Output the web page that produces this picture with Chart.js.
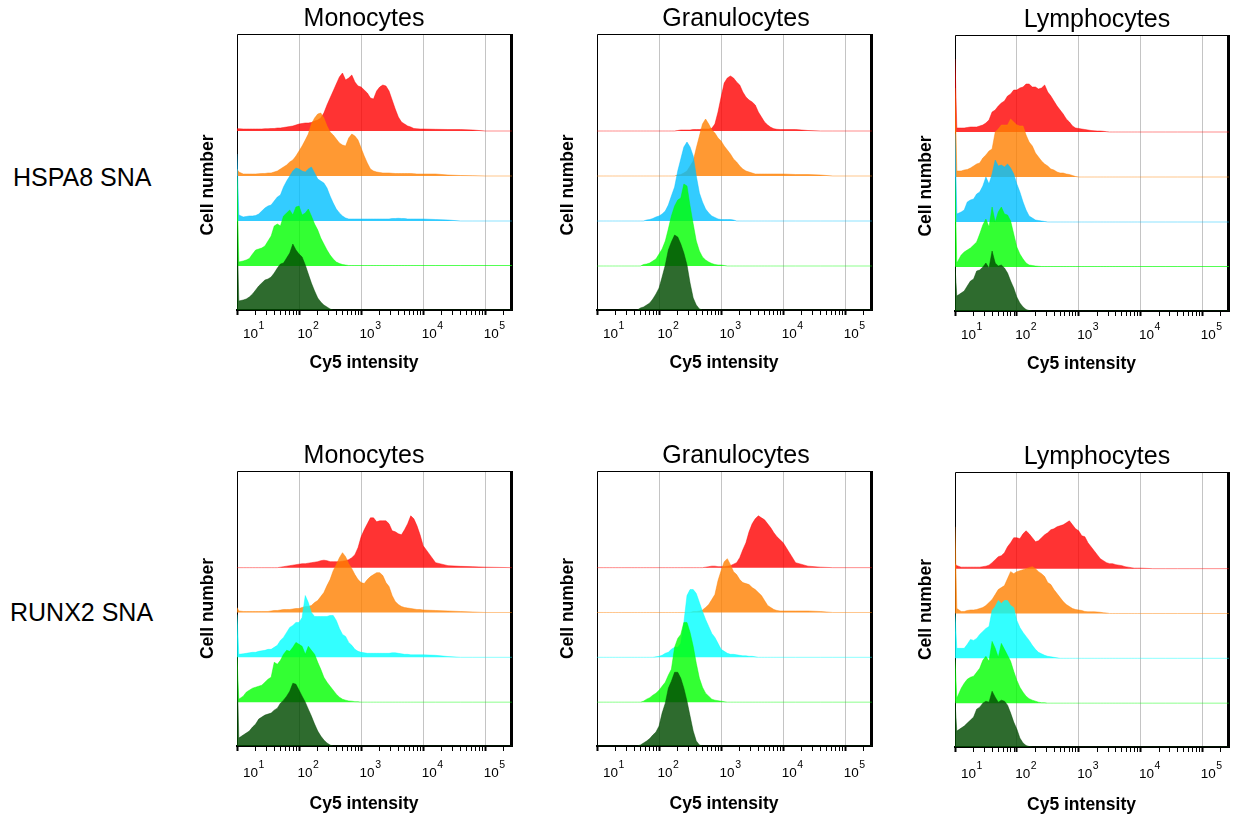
<!DOCTYPE html>
<html>
<head>
<meta charset="utf-8">
<title>Cy5 intensity histograms</title>
<script src="https://cdn.jsdelivr.net/npm/chart.js@4.4.1/dist/chart.umd.min.js"></script>
<style>
  html, body { margin: 0; padding: 0; background: #fff; overflow: hidden; }
  body { width: 1233px; height: 814px; position: relative; font-family: "Liberation Sans", Arial, sans-serif; }
  .panel { position: absolute; }
  .row-label { position: absolute; font-size: 25px; line-height: 25px; color: #000; white-space: nowrap; }
</style>
</head>
<body>
<div class="row-label" style="left:13px;top:165px">HSPA8 SNA</div>
<div class="row-label" style="left:10px;top:600px">RUNX2 SNA</div>
<script>
// Bin positions on the Cy5 axis (intensity)
const cy5Bins = [10, 10.7,
  12.6, 14.1, 15.8, 17.8, 20, 22.4, 25.1, 28.2,
  31.6, 35.5, 39.8, 44.7, 50.1, 56.2, 63.1, 70.8, 79.4, 89.1,
  100, 112, 126, 141, 158, 178, 200, 224, 251, 282,
  316, 355, 398, 447, 501, 562, 631, 708, 794, 891,
  1000, 1122, 1259, 1413, 1585, 1778, 1995, 2239, 2512, 2818,
  3162, 3548, 3981, 4467, 5012, 5623, 6310, 7079, 7943, 8913, 10000,
  15849, 25119, 39811, 63096, 100000, 270000];

// Histogram heights above each trace's own baseline (cell counts, arbitrary units)
// HSPA8 SNA - Monocytes
const hspaMonoRed = [2.3, 2.3,
  2, 2, 2, 2, 2, 2, 2, 2.3,
  2.3, 2.5, 2.5, 3, 3, 3.5, 4, 4.5, 5, 6,
  7, 7.5, 8, 8, 8.5, 10, 11, 13, 18, 26,
  33, 40, 47, 54, 58, 51, 53, 56, 49, 45,
  44, 41, 38, 33, 32, 40, 44, 46, 45, 40,
  31, 22, 14, 9, 7, 5, 4, 2.5, 2.2, 2, 2,
  1.7, 1.5, 1.5, 1, 0, 0];
const hspaMonoOrange = [7, 4,
  2, 2, 2, 2, 2, 2.3, 2.5, 2.5,
  3, 3, 4, 5, 7, 9, 11, 14, 16, 20,
  25, 30, 36, 42, 52, 58, 62, 63, 58, 50,
  44, 41, 37, 33, 31, 30, 38, 42, 40, 36,
  28, 20, 13, 7, 5, 4, 3.5, 3, 3, 3,
  2.7, 2.5, 2.5, 2.5, 2.5, 2.5, 2.5, 2.3, 2, 2, 2,
  2, 1, 0.5, 0.3, 0, 0];
const hspaMonoBlue = [67, 6,
  4, 4.5, 5, 5, 5.5, 7, 10, 13,
  15, 16, 20, 24, 26, 34, 40, 45, 50, 53,
  52, 50, 49, 52, 54, 48, 42, 40, 38, 33,
  25, 18, 12, 8, 5, 3, 2, 2, 2, 2,
  2, 2, 2, 2, 2, 2, 2, 2, 2, 2,
  2.5, 2.5, 2.7, 2.5, 2.5, 2, 2, 2, 2, 2, 2,
  1.5, 1, 0, 0, 0, 0];
const hspaMonoGreen = [89, 4,
  5, 6, 7.5, 12, 16, 17, 18, 20,
  25, 30, 40, 42, 40, 50, 53, 56, 51, 59,
  60, 51, 53, 57, 50, 42, 36, 28, 22, 16,
  11, 7, 4, 2.5, 1.5, 1, 0.5, 0.5, 0.5, 0.5,
  0.5, 0.5, 0.5, 0.5, 0.5, 0.5, 0.5, 0.5, 0.5, 0.5,
  0.5, 0.5, 0.5, 0.5, 0.5, 0.5, 0.5, 0.5, 0.5, 0.5, 0.5,
  0.5, 0.5, 0.5, 0.5, 0.5, 0.5];
const hspaMonoDark = [88, 9,
  10, 11, 13, 16, 20, 24, 27, 30,
  31, 33, 37, 42, 46, 47, 52, 57, 66, 60,
  56, 53, 45, 36, 27, 19, 12, 8, 5, 3,
  1, 0, 0, 0, 0, 0, 0, 0, 0, 0,
  0, 0, 0, 0, 0, 0, 0, 0, 0, 0,
  0, 0, 0, 0, 0, 0, 0, 0, 0, 0, 0,
  0, 0, 0, 0, 0, 0];

// HSPA8 SNA - Granulocytes
const hspaGranRed = [0, 0,
  0, 0, 0, 0, 0, 0, 0, 0,
  0, 0, 0, 0, 0, 0, 0, 0, 0, 0,
  0, 0, 0, 0, 0, 0, 0.5, 1, 1, 1,
  1, 1.5, 1.5, 1.5, 2, 2, 2, 2.7, 7, 19,
  34, 48, 53, 55, 53, 49, 46, 39, 34, 31,
  29, 26, 19, 14, 9, 6, 3.7, 2.3, 1.7, 1.5, 1.5,
  1.5, 0.5, 0, 0, 0, 0];
const hspaGranOrange = [0, 0,
  0, 0, 0, 0, 0, 0, 0, 0,
  0, 0, 0, 0, 0, 0, 0, 0, 0, 0,
  0, 0, 0, 0, 0, 0, 1, 1.5, 3, 5,
  10, 15, 28, 40, 52, 57, 52, 46, 43, 38,
  35, 30, 26, 22, 17, 14, 10, 7, 5, 4,
  3, 2, 2, 2, 2, 2, 2, 2, 2, 2, 2,
  1.5, 1.5, 1, 0, 0, 0];
const hspaGranBlue = [0, 0,
  0, 0, 0, 0, 0, 0, 0, 0,
  0, 0, 0, 0, 0, 0, 1, 1.5, 2.5, 4,
  5, 7, 10, 16, 25, 34, 50, 62, 74, 79,
  74, 65, 45, 28, 19, 12, 8, 5, 3.5, 2,
  1.5, 1.5, 1.5, 1.5, 1, 0, 0, 0, 0, 0,
  0, 0, 0, 0, 0, 0, 0, 0, 0, 0, 0,
  0, 0, 0, 0, 0, 0];
const hspaGranGreen = [0, 0,
  0, 0, 0, 0, 0, 0, 0, 0,
  0, 0, 0, 0, 0, 1.5, 2, 3, 5, 7,
  12, 17, 25, 37, 50, 60, 66, 68, 82, 80,
  60, 42, 25, 15, 9, 6, 4, 2.5, 1.5, 1,
  1, 0.5, 0, 0, 0, 0, 0, 0, 0, 0,
  0, 0, 0, 0, 0, 0, 0, 0, 0, 0, 0,
  0, 0, 0, 0, 0, 0];
const hspaGranDark = [0, 0,
  0, 0, 0, 0, 0, 0, 0, 0,
  0, 0, 0, 0, 2, 3, 5, 7, 11, 16,
  22, 33, 45, 60, 68, 75, 73, 66, 57, 45,
  27, 12, 5, 1, 0, 0, 0, 0, 0, 0,
  0, 0, 0, 0, 0, 0, 0, 0, 0, 0,
  0, 0, 0, 0, 0, 0, 0, 0, 0, 0, 0,
  0, 0, 0, 0, 0, 0];

// HSPA8 SNA - Lymphocytes
const hspaLymRed = [73, 4,
  4, 4, 4.5, 5, 5, 5, 6, 7,
  9, 12, 20, 22, 26, 29, 31, 36, 38, 42,
  42, 44, 45, 48, 48, 45, 45, 43, 44, 47,
  40, 36, 31, 26, 22, 18, 13, 10, 6, 4,
  3.5, 3, 2.5, 2, 1.5, 1.2, 1, 1, 0.7, 0.3,
  0, 0, 0, 0, 0, 0, 0, 0, 0, 0, 0,
  0, 0, 0, 0, 0, 0];
const hspaLymOrange = [89, 6,
  6, 7, 7.5, 9, 11, 13, 14, 19,
  22, 26, 28, 45, 48, 52, 52, 52, 58, 55,
  52, 51, 51, 42, 35, 31, 24, 20, 16, 13,
  11, 8, 7, 5, 4, 4, 3, 2.5, 1.5, 0.5,
  0, 0, 0, 0, 0, 0, 0, 0, 0, 0,
  0, 0, 0, 0, 0, 0, 0, 0, 0, 0, 0,
  0, 0, 0, 0, 0, 0];
const hspaLymBlue = [88, 8,
  10, 12, 20, 22, 23, 28, 30, 36,
  45, 38, 48, 62, 56, 57, 55, 58, 54, 48,
  38, 30, 20, 12, 6, 4, 2, 1.5, 1, 0.5,
  0, 0, 0, 0, 0, 0, 0, 0, 0, 0,
  0, 0, 0, 0, 0, 0, 0, 0, 0, 0,
  0, 0, 0, 0, 0, 0, 0, 0, 0, 0, 0,
  0, 0, 0, 0, 0, 0];
const hspaLymGreen = [88, 4,
  12, 15, 17, 19, 22, 25, 33, 42,
  48, 40, 60, 45, 55, 60, 53, 52, 46, 33,
  20, 13, 8, 4, 2, 1.5, 1, 0.7, 0.5, 0.5,
  0.5, 0.5, 0.5, 0.5, 0.5, 0.5, 0.5, 0.5, 0.5, 0.5,
  0.5, 0.5, 0.5, 0.5, 0.5, 0.5, 0.5, 0.5, 0.5, 0.5,
  0.5, 0.5, 0.5, 0.5, 0.5, 0.5, 0.5, 0.5, 0.5, 0.5, 0.5,
  0.5, 0.5, 0.5, 0.5, 0.5, 0.5];
const hspaLymDark = [45, 15,
  18, 20, 25, 30, 32, 40, 41, 44,
  48, 43, 60, 48, 45, 46, 43, 38, 30, 23,
  14, 8, 4, 1.5, 0.5, 0, 0, 0, 0, 0,
  0, 0, 0, 0, 0, 0, 0, 0, 0, 0,
  0, 0, 0, 0, 0, 0, 0, 0, 0, 0,
  0, 0, 0, 0, 0, 0, 0, 0, 0, 0, 0,
  0, 0, 0, 0, 0, 0];

// RUNX2 SNA - Monocytes
const runxMonoRed = [0, 0,
  0, 0, 0, 0, 0, 0, 0, 0,
  0, 0, 0, 0, 0.5, 1, 1.5, 2, 2.5, 3,
  3.5, 4, 4, 4.5, 5, 5.5, 6, 7, 7.5, 7,
  6, 6, 6, 6, 6.5, 7, 8, 10, 13, 20,
  31, 38, 44, 50, 50, 46, 47, 47, 47, 44,
  37, 36, 34, 33, 38, 44, 52, 49, 42, 33, 22,
  5, 2, 1.3, 1, 0.5, 0];
const runxMonoOrange = [5, 1.5,
  1, 1, 1, 1, 1, 1, 1, 1,
  1, 1.5, 2, 2, 2.5, 3, 3, 3, 3.5, 4,
  4, 5, 6, 6, 7, 10, 12, 16, 20, 27,
  33, 42, 48, 55, 60, 56, 49, 44, 38, 33,
  30, 29, 33, 36, 38, 40, 40, 37, 30, 26,
  17, 11, 8, 6, 5, 4.5, 4, 3.5, 3, 3, 2.5,
  2, 1.5, 1, 0.5, 0, 0];
const runxMonoCyan = [43, 3,
  3.5, 4, 4.5, 5, 5, 6, 6.5, 7,
  8, 8, 10, 12, 17, 20, 25, 30, 32, 35,
  35, 40, 62, 55, 45, 41, 41, 41, 41, 41,
  42, 42, 37, 29, 23, 21, 15, 12, 8, 6,
  5, 4.5, 4, 4, 4, 4, 4, 4, 4, 4,
  4.5, 4.5, 4, 3.5, 3, 3, 2.5, 2.5, 2.5, 2.5, 2.5,
  2, 0.8, 0, 0, 0, 0];
const runxMonoGreen = [46, 3,
  6, 10, 12, 14, 15, 16, 17, 20,
  23, 25, 40, 38, 42, 48, 52, 51, 55, 60,
  58, 56, 48, 56, 52, 48, 40, 33, 25, 20,
  16, 12, 8, 5, 3, 2, 1.2, 1, 0.5, 0.5,
  0, 0, 0, 0, 0, 0, 0, 0, 0, 0,
  0, 0, 0, 0, 0, 0, 0, 0, 0, 0, 0,
  0, 0, 0, 0, 0, 0];
const runxMonoDark = [86, 8,
  11, 13, 15, 19, 22, 27, 29, 31,
  32, 33, 36, 38, 43, 46, 50, 55, 63, 62,
  56, 50, 44, 37, 30, 22, 15, 10, 6, 3,
  1, 0, 0, 0, 0, 0, 0, 0, 0, 0,
  0, 0, 0, 0, 0, 0, 0, 0, 0, 0,
  0, 0, 0, 0, 0, 0, 0, 0, 0, 0, 0,
  0, 0, 0, 0, 0, 0];

// RUNX2 SNA - Granulocytes
const runxGranRed = [0, 0,
  0, 0, 0, 0, 0, 0, 0, 0,
  0, 0, 0, 0, 0, 0, 0, 0, 0, 0,
  0, 0, 0, 0, 0, 0, 0, 0, 0, 0,
  0, 0, 0, 0, 0, 0.5, 1, 1.5, 1.5, 1,
  1, 1, 1.5, 2, 3.5, 5, 10, 18, 25, 36,
  44, 49, 52, 50, 48, 44, 40, 35, 31, 28, 25,
  5, 1.5, 0.5, 0, 0, 0];
const runxGranOrange = [0, 0,
  0, 0, 0, 0, 0, 0, 0, 0,
  0, 0, 0, 0, 0, 0, 0, 0, 0, 0,
  0, 0, 0, 0, 0, 0, 0, 0, 0, 0,
  0, 1, 1, 1.5, 2.5, 5, 8, 13, 18, 32,
  42, 51, 54, 48, 41, 38, 33, 30, 29, 28,
  25, 23, 20, 17, 12, 7, 5, 3, 2, 1.5, 1.5,
  1.5, 1.5, 1, 0, 0, 0];
const runxGranCyan = [0, 0,
  0, 0, 0, 0, 0, 0, 0, 0,
  0, 0, 0, 0, 0, 0, 0, 0, 0, 0.5,
  1, 2, 4, 5, 8, 10, 10, 14, 35, 62,
  68, 68, 64, 55, 46, 38, 31, 24, 20, 14,
  8, 6, 4, 3, 3, 2.5, 2, 1.5, 1.5, 1,
  1, 0.5, 0, 0, 0, 0, 0, 0, 0, 0, 0,
  0, 0, 0, 0, 0, 0];
const runxGranGreen = [0, 0,
  0, 0, 0, 0, 0, 0, 0, 0,
  0, 0, 0, 0, 0, 1, 3, 4.5, 7, 9,
  12, 16, 20, 27, 33, 55, 64, 68, 80, 80,
  70, 56, 39, 24, 15, 9, 6, 3, 2, 1.5,
  1, 0.5, 0, 0, 0, 0, 0, 0, 0, 0,
  0, 0, 0, 0, 0, 0, 0, 0, 0, 0, 0,
  0, 0, 0, 0, 0, 0];
const runxGranDark = [0, 0,
  0, 0, 0, 0, 0, 0, 0, 0,
  0, 0, 0, 0, 1, 3, 5, 7.5, 11, 14,
  20, 33, 43, 58, 65, 74, 74, 68, 58, 45,
  30, 15, 5, 1, 0, 0, 0, 0, 0, 0,
  0, 0, 0, 0, 0, 0, 0, 0, 0, 0,
  0, 0, 0, 0, 0, 0, 0, 0, 0, 0, 0,
  0, 0, 0, 0, 0, 0];

// RUNX2 SNA - Lymphocytes
const runxLymRed = [5, 3,
  1.5, 1.5, 1.5, 1.5, 1.5, 1.5, 1.5, 2,
  2.5, 3.5, 6, 9, 12, 13, 16, 22, 26, 31,
  31, 30, 35, 38, 35, 31, 27, 28, 31, 34,
  36, 39, 40, 42, 43, 44, 46, 48, 44, 40,
  38, 33, 32, 26, 22, 18, 14, 10, 8, 6,
  5, 5, 4, 3.5, 3, 2, 1.5, 1, 0.5, 0.5, 0.5,
  0, 0, 0, 0, 0, 0];
const runxLymOrange = [87, 5,
  2, 2, 3, 3.5, 3.5, 4, 5, 6,
  8, 11, 14, 19, 24, 26, 28, 35, 42, 40,
  42, 43, 44, 45, 46, 47, 45, 42, 40, 37,
  31, 29, 24, 20, 16, 12, 9, 7, 5, 4,
  3.5, 3, 2, 1.7, 1.7, 1.7, 1.5, 1.2, 0.7, 0.5,
  0, 0, 0, 0, 0, 0, 0, 0, 0, 0, 0,
  0, 0, 0, 0, 0, 0];
const runxLymCyan = [45, 10,
  10, 10, 14, 19, 18, 20, 24, 27,
  30, 32, 48, 52, 58, 55, 58, 58, 53, 51,
  38, 31, 26, 22, 18, 13, 9, 6, 4.5, 3,
  2, 1.5, 1, 0.5, 0, 0, 0, 0, 0, 0,
  0, 0, 0, 0, 0, 0, 0, 0, 0, 0,
  0, 0, 0, 0, 0, 0, 0, 0, 0, 0, 0,
  0, 0, 0, 0, 0, 0];
const runxLymGreen = [44, 5,
  15, 20, 24, 26, 27, 31, 35, 43,
  47, 42, 62, 55, 46, 60, 54, 48, 42, 32,
  23, 16, 11, 7, 4.5, 3, 2, 1, 0.5, 0.5,
  0, 0, 0, 0, 0, 0, 0, 0, 0, 0,
  0, 0, 0, 0, 0, 0, 0, 0, 0, 0,
  0, 0, 0, 0, 0, 0, 0, 0, 0, 0, 0,
  0, 0, 0, 0, 0, 0];
const runxLymDark = [46, 16,
  19, 21, 24, 27, 30, 38, 40, 44,
  46, 45, 56, 50, 45, 47, 46, 42, 34, 25,
  18, 9, 4, 1.5, 0.5, 0, 0, 0, 0, 0,
  0, 0, 0, 0, 0, 0, 0, 0, 0, 0,
  0, 0, 0, 0, 0, 0, 0, 0, 0, 0,
  0, 0, 0, 0, 0, 0, 0, 0, 0, 0, 0,
  0, 0, 0, 0, 0, 0];

const populations = ['Monocytes', 'Granulocytes', 'Lymphocytes'];
const xTickExponents = [1, 2, 3, 4, 5];
const traceLabels = ['dark green', 'green', 'blue', 'orange', 'red'];

// ---- layout / style ----
const X_MIN = 10, X_MAX = 270000;
const Y_SPAN = 276;
const baselines = [0, 44, 89, 134, 179];     // front trace first
const PAD_L = 60, PAD_T = 40, PAD_R = 4, AXIS_H = 72;
const FONT = '"Liberation Sans", Arial, sans-serif';

const rowColors = [
  [[0, 75, 0], [0, 255, 0], [0, 191, 255], [255, 128, 0], [255, 0, 0]],
  [[0, 75, 0], [0, 255, 0], [0, 255, 255], [255, 128, 0], [255, 0, 0]]
];
const rowText = [
  { yTitleDy: 13, xTitleBase: 58, tickBase: 27.5 },
  { yTitleDy: 0, xTitleBase: 62.5, tickBase: 30.5 }
];
const titleDx = [-10.5, 1.5, 5];

const panels = [
  { row: 0, col: 0, box: [237, 34, 512, 310], series: [hspaMonoDark, hspaMonoGreen, hspaMonoBlue, hspaMonoOrange, hspaMonoRed] },
  { row: 0, col: 1, box: [597, 34, 872, 310], series: [hspaGranDark, hspaGranGreen, hspaGranBlue, hspaGranOrange, hspaGranRed] },
  { row: 0, col: 2, box: [955, 35, 1229, 311], series: [hspaLymDark, hspaLymGreen, hspaLymBlue, hspaLymOrange, hspaLymRed] },
  { row: 1, col: 0, box: [237, 471, 512, 746], series: [runxMonoDark, runxMonoGreen, runxMonoCyan, runxMonoOrange, runxMonoRed] },
  { row: 1, col: 1, box: [597, 471, 872, 746], series: [runxGranDark, runxGranGreen, runxGranCyan, runxGranOrange, runxGranRed] },
  { row: 1, col: 2, box: [955, 472, 1229, 747], series: [runxLymDark, runxLymGreen, runxLymCyan, runxLymOrange, runxLymRed] }
];

function rgba(c, a) {
  return `rgba(${c[0]},${c[1]},${c[2]},${a})`;
}

// 1..9 x 10^n ticks inside the axis range; decades are major
function logTicks() {
  const ticks = [];
  for (const e of xTickExponents) {
    for (let m = 1; m <= 9; m++) {
      const v = m * Math.pow(10, e);
      if (v >= X_MIN && v <= X_MAX) ticks.push({ value: v, major: m === 1 });
    }
  }
  return ticks;
}

// frame, panel title, axis titles and 10^n labels
const panelDecor = {
  id: 'panelDecor',
  beforeDatasetsDraw(chart) {
    const { ctx, chartArea: a } = chart;
    ctx.save();
    ctx.strokeStyle = '#000';
    ctx.lineWidth = 1;
    ctx.beginPath();
    ctx.moveTo(a.left + 0.5, a.bottom);
    ctx.lineTo(a.left + 0.5, a.top + 0.5);
    ctx.lineTo(a.right, a.top + 0.5);
    ctx.stroke();
    ctx.lineWidth = 3;
    ctx.beginPath();
    ctx.moveTo(a.right - 0.5, a.top);
    ctx.lineTo(a.right - 0.5, a.bottom + 1);
    ctx.stroke();
    ctx.restore();
  },
  afterDraw(chart, args, opts) {
    const { ctx, chartArea: a } = chart;
    const x = chart.scales.x;
    const midX = (a.left + a.right) / 2;
    ctx.save();
    ctx.fillStyle = '#000';
    ctx.textBaseline = 'alphabetic';
    ctx.textAlign = 'center';

    ctx.font = `25px ${FONT}`;
    ctx.fillText(opts.title, midX + opts.titleDx, a.top - 8);

    ctx.font = `bold 17.5px ${FONT}`;
    ctx.fillText('Cy5 intensity', midX - 10.5, a.bottom + opts.xTitleBase);

    ctx.save();
    ctx.translate(a.left - 23.7, (a.top + a.bottom) / 2 + opts.yTitleDy);
    ctx.rotate(-Math.PI / 2);
    ctx.fillText('Cell number', 0, 0);
    ctx.restore();

    ctx.textAlign = 'left';
    const base = a.bottom + opts.tickBase;
    for (const e of xTickExponents) {
      const px = x.getPixelForValue(Math.pow(10, e));
      const left = Math.max(px - 1.5, a.left + 6);
      ctx.font = `13.5px ${FONT}`;
      ctx.fillText('10', left, base);
      const w = ctx.measureText('10').width;
      ctx.font = `10.5px ${FONT}`;
      ctx.fillText(String(e), left + w + 0.5, base - 9);
    }
    ctx.restore();
  }
};

function buildPanel(p) {
  const [L, T, R, B] = p.box;
  const holder = document.createElement('div');
  holder.className = 'panel';
  holder.style.left = (L - PAD_L) + 'px';
  holder.style.top = (T - PAD_T) + 'px';
  const canvas = document.createElement('canvas');
  canvas.width = R - L + PAD_L + PAD_R;
  canvas.height = B - T + PAD_T + AXIS_H;
  holder.appendChild(canvas);
  document.body.appendChild(holder);

  const colors = rowColors[p.row];
  const scales = {
    x: {
      type: 'logarithmic',
      position: 'bottom',
      min: X_MIN,
      max: X_MAX,
      afterBuildTicks: (scale) => { scale.ticks = logTicks(); },
      afterFit: (scale) => { scale.height = AXIS_H; },
      ticks: { display: false, autoSkip: false },
      grid: {
        color: (c) => (c.tick && c.tick.major && c.tick.value > X_MIN) ? '#c4c4c4' : 'rgba(0,0,0,0)',
        lineWidth: 1,
        drawTicks: true,
        tickLength: 5,
        tickColor: '#000',
        tickWidth: (c) => (c.tick && c.tick.major) ? 2 : 1
      },
      border: { display: true, color: '#000', width: 2 }
    }
  };
  baselines.forEach((b, i) => {
    scales['y' + i] = { type: 'linear', display: false, min: -b, max: Y_SPAN - b };
  });

  new Chart(canvas, {
    type: 'line',
    data: {
      labels: cy5Bins,
      datasets: p.series.map((vals, i) => ({
        label: traceLabels[i],
        data: vals,
        yAxisID: 'y' + i,
        fill: { value: 0 },
        backgroundColor: rgba(colors[i], i === 0 ? 0.82 : 0.8),
        borderColor: rgba(colors[i], 0.45),
        borderWidth: 1,
        pointRadius: 0,
        tension: 0
      }))
    },
    options: {
      responsive: false,
      animation: false,
      events: [],
      layout: { padding: { left: PAD_L, top: PAD_T, right: PAD_R, bottom: 0 } },
      plugins: {
        legend: { display: false },
        tooltip: { enabled: false },
        panelDecor: Object.assign({ title: populations[p.col], titleDx: titleDx[p.col] }, rowText[p.row])
      },
      scales
    },
    plugins: [panelDecor]
  });
}

panels.forEach(p => {
  p.series.forEach(s => { if (s.length !== cy5Bins.length) console.warn('length mismatch', s.length); });
  buildPanel(p);
});
</script>
</body>
</html>
